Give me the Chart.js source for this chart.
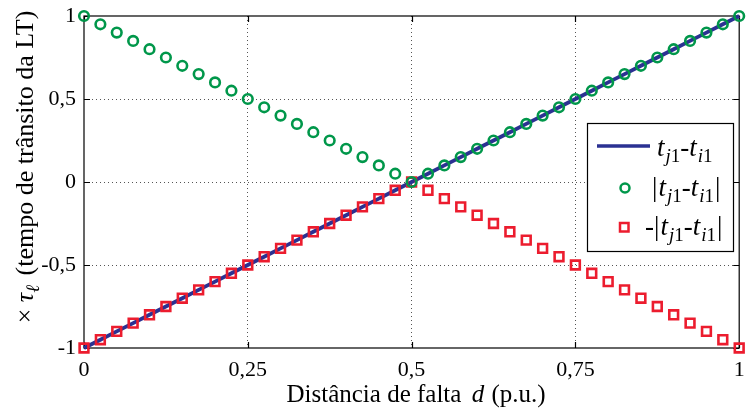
<!DOCTYPE html>
<html>
<head>
<meta charset="utf-8">
<script src="https://cdn.jsdelivr.net/npm/chart.js"></script>
<style>
html,body{margin:0;padding:0;background:#fff;}
#wrap{width:748px;height:410px;position:relative;}
</style>
</head>
<body>
<div id="wrap"><canvas id="c" width="748" height="410"></canvas></div>
<script>
// ---- data ----
const distances = [0,0.025,0.05,0.075,0.1,0.125,0.15,0.175,0.2,0.225,0.25,0.275,0.3,0.325,0.35,0.375,0.4,0.425,0.45,0.475,0.5,0.525,0.55,0.575,0.6,0.625,0.65,0.675,0.7,0.725,0.75,0.775,0.8,0.825,0.85,0.875,0.9,0.925,0.95,0.975,1];
const diffValues = [-1,-0.95,-0.9,-0.85,-0.8,-0.75,-0.7,-0.65,-0.6,-0.55,-0.5,-0.45,-0.4,-0.35,-0.3,-0.25,-0.2,-0.15,-0.1,-0.05,0,0.05,0.1,0.15,0.2,0.25,0.3,0.35,0.4,0.45,0.5,0.55,0.6,0.65,0.7,0.75,0.8,0.85,0.9,0.95,1];
const absValues = [1,0.95,0.9,0.85,0.8,0.75,0.7,0.65,0.6,0.55,0.5,0.45,0.4,0.35,0.3,0.25,0.2,0.15,0.1,0.05,0,0.05,0.1,0.15,0.2,0.25,0.3,0.35,0.4,0.45,0.5,0.55,0.6,0.65,0.7,0.75,0.8,0.85,0.9,0.95,1];
const negAbsValues = [-1,-0.95,-0.9,-0.85,-0.8,-0.75,-0.7,-0.65,-0.6,-0.55,-0.5,-0.45,-0.4,-0.35,-0.3,-0.25,-0.2,-0.15,-0.1,-0.05,0,-0.05,-0.1,-0.15,-0.2,-0.25,-0.3,-0.35,-0.4,-0.45,-0.5,-0.55,-0.6,-0.65,-0.7,-0.75,-0.8,-0.85,-0.9,-0.95,-1];
const xTickValues = [0,0.25,0.5,0.75,1];
const yTickValues = [-1,-0.5,0,0.5,1];
const xTickLabels = ['0','0,25','0,5','0,75','1'];
const yTickLabels = ['-1','-0,5','0','0,5','1'];

const SERIF = '"Liberation Serif", "Times New Roman", serif';
const BLUE = '#2b3192';
const GREEN = '#00974a';
const RED = '#ec1c2e';

function pts(ys){ return distances.map((d,i)=>({x:d,y:ys[i]})); }

function runWidth(ctx, runs){
  let w=0; runs.forEach(r=>{ctx.font=r.f; w+=ctx.measureText(r.t).width + (r.sp||0);}); return w;
}
function drawRuns(ctx, x, y, runs){
  runs.forEach(r=>{ctx.font=r.f; ctx.fillText(r.t, x, y+(r.dy||0)); x+=ctx.measureText(r.t).width + (r.sp||0);});
}
const F = (s, it) => (it?'italic ':'') + s + 'px ' + SERIF;
function tRuns(pre, post){
  const M=27, S=19, D=6;
  const r=[];
  if(pre) r.push({t:pre,f:F(M),sp:1});
  r.push({t:'t',f:F(M,true),sp:1});
  r.push({t:'j',f:F(S,true),dy:D});
  r.push({t:'1',f:F(S),dy:D});
  r.push({t:'-',f:F(M)});
  r.push({t:'t',f:F(M,true),sp:1});
  r.push({t:'i',f:F(S,true),dy:D});
  r.push({t:'1',f:F(S),dy:D,sp:1});
  if(post) r.push({t:post,f:F(M)});
  return r;
}

const framePlugin = {
  id:'frame',
  beforeDatasetsDraw(chart){
    const {ctx, chartArea:a, scales:{x,y}} = chart;
    ctx.save();
    ctx.strokeStyle='#000'; ctx.lineWidth=1.2;
    ctx.strokeRect(a.left, a.top, a.right-a.left, a.bottom-a.top);
    ctx.beginPath();
    xTickValues.forEach(v=>{const px=Math.round(x.getPixelForValue(v))+0.5;
      ctx.moveTo(px,a.bottom); ctx.lineTo(px,a.bottom-6);
      ctx.moveTo(px,a.top); ctx.lineTo(px,a.top+6);});
    yTickValues.forEach(v=>{const py=Math.round(y.getPixelForValue(v))+0.5;
      ctx.moveTo(a.left,py); ctx.lineTo(a.left+6,py);
      ctx.moveTo(a.right,py); ctx.lineTo(a.right-6,py);});
    ctx.stroke();
    ctx.restore();
  },
  afterDatasetsDraw(chart){
    const {ctx} = chart;
    ctx.save();
    ctx.fillStyle='#000'; ctx.textBaseline='alphabetic'; ctx.textAlign='left';
    // x title
    const xr=[{t:'Distância de falta ',f:F(25),sp:4},{t:'d',f:F(25,true),sp:1},{t:' (p.u.)',f:F(25)}];
    const xw=runWidth(ctx,xr);
    drawRuns(ctx, 416-xw/2, 402, xr);
    // y title
    ctx.save();
    ctx.translate(33,167); ctx.rotate(-Math.PI/2);
    const yr=[{t:'× ',f:F(26)},{t:'τ',f:F(26,true)},{t:'ℓ',f:F(19,true),dy:6,sp:3},{t:' (tempo de trânsito da LT)',f:F(26)}];
    const yw=runWidth(ctx,yr);
    drawRuns(ctx,-yw/2,0,yr);
    ctx.restore();
    // legend
    const L=587, T=123, R=733, B=251;
    ctx.fillStyle='#fff'; ctx.fillRect(L,T,R-L,B-T);
    ctx.strokeStyle='#000'; ctx.lineWidth=1.2; ctx.strokeRect(L+0.5,T+0.5,R-L,B-T);
    ctx.strokeStyle=BLUE; ctx.lineWidth=3.5;
    ctx.beginPath(); ctx.moveTo(597,146); ctx.lineTo(650,146); ctx.stroke();
    ctx.strokeStyle=GREEN; ctx.lineWidth=2.5;
    ctx.beginPath(); ctx.arc(625,188,4.5,0,Math.PI*2); ctx.stroke();
    ctx.strokeStyle=RED; ctx.lineWidth=2.5;
    ctx.strokeRect(620,223,8.5,8.5);
    ctx.fillStyle='#000';
    drawRuns(ctx,657,156,tRuns('',''));
    drawRuns(ctx,652,196,tRuns('|','|'));
    drawRuns(ctx,645,235,tRuns('-|','|'));
    ctx.restore();
  }
};

const gridColor = (vals)=> (c)=>{ const v=c.tick?c.tick.value:null; return (v===vals[0]||v===vals[vals.length-1])?'rgba(0,0,0,0)':'#555'; };

new Chart(document.getElementById('c'), {
  type:'scatter',
  data:{ datasets:[
    {label:'|tj1-ti1|', data:pts(absValues), showLine:false, pointStyle:'circle', pointRadius:4.8, pointBorderWidth:2.6, pointBorderColor:GREEN, pointBackgroundColor:'rgba(0,0,0,0)', order:1, clip:false},
    {label:'-|tj1-ti1|', data:pts(negAbsValues), showLine:false, pointStyle:'rect', pointRadius:6.2, pointBorderWidth:2.6, pointBorderColor:RED, pointBackgroundColor:'rgba(0,0,0,0)', order:2, clip:false},
    {label:'tj1-ti1', data:pts(diffValues), showLine:true, borderColor:BLUE, borderWidth:3.8, pointRadius:0, order:3, clip:false}
  ]},
  options:{
    responsive:false, animation:false, devicePixelRatio:1,
    layout:{padding:{top:16,right:3,left:0,bottom:0}},
    plugins:{legend:{display:false}, tooltip:{enabled:false}},
    elements:{point:{hoverRadius:0}},
    scales:{
      x:{type:'linear', min:0, max:1,
        afterBuildTicks(s){ s.ticks = xTickValues.map(v=>({value:v})); },
        afterFit(s){ s.height=62; s.paddingLeft=0; s.paddingRight=0; },
        ticks:{ callback:(v)=>xTickLabels[xTickValues.indexOf(v)], color:'#000', font:{family:SERIF,size:22}, padding:9, maxRotation:0, autoSkip:false },
        grid:{ color:gridColor(xTickValues), lineWidth:1, drawTicks:false },
        border:{ display:false, dash:[1,3] }
      },
      y:{type:'linear', min:-1, max:1,
        afterBuildTicks(s){ s.ticks = yTickValues.map(v=>({value:v})); },
        afterFit(s){ s.width=84; s.paddingTop=0; s.paddingBottom=0; },
        ticks:{ callback:(v)=>yTickLabels[yTickValues.indexOf(v)], color:'#000', font:{family:SERIF,size:22}, padding:8, autoSkip:false },
        grid:{ color:gridColor(yTickValues), lineWidth:1, drawTicks:false },
        border:{ display:false, dash:[1,3] }
      }
    }
  },
  plugins:[framePlugin]
});
</script>
</body>
</html>
